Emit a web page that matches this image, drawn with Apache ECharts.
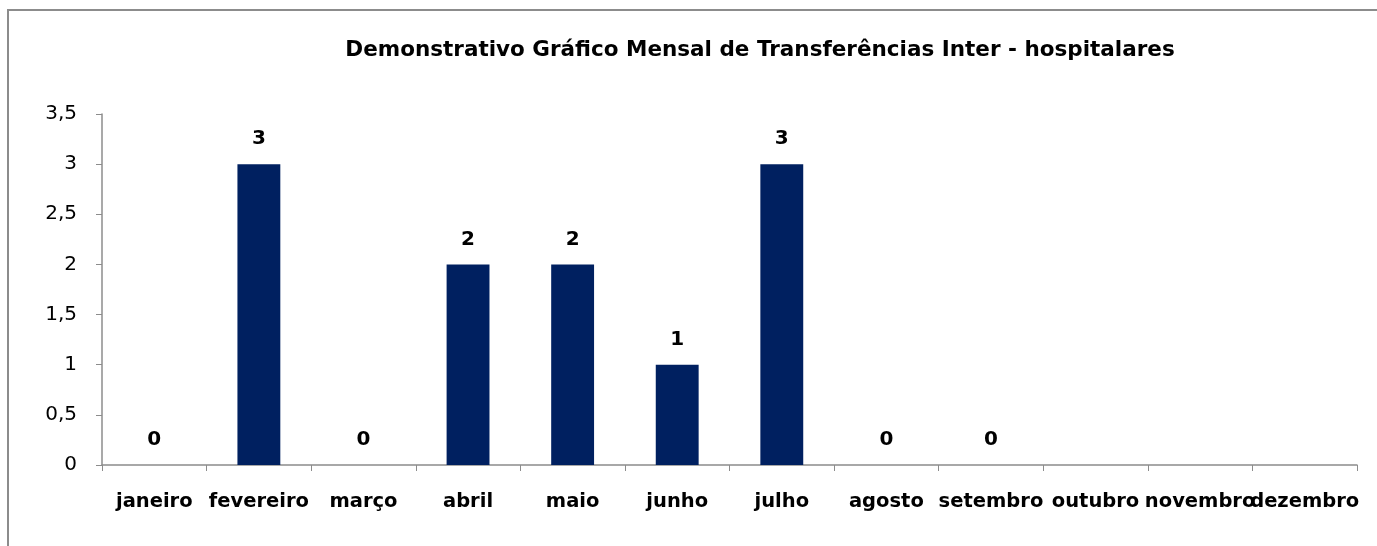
<!DOCTYPE html>
<html>
<head>
<meta charset="utf-8">
<script src="https://cdn.jsdelivr.net/npm/echarts@6/dist/echarts.min.js"></script>
<style>
html, body { margin: 0; padding: 0; background: #fff; }
#frame {
    position: absolute;
    left: 7px;
    top: 9px;
    width: 1400px;
    height: 600px;
    border-left: 2px solid #8c8c8c;
    border-top: 2px solid #8c8c8c;
}
#tu1 { position: absolute; left: 0; top: 0; width: 1377px; height: 546px; }
</style>
</head>
<body>
<div id="frame"></div>
<div id="tu1"></div>
<script>
// meses
var meses = ['janeiro', 'fevereiro', 'março', 'abril', 'maio', 'junho', 'julho',
    'agosto', 'setembro', 'outubro', 'novembro', 'dezembro'];
// transferencias por mes (outubro a dezembro sem valor)
var valores = [0, 3, 0, 2, 2, 1, 3, 0, 0, null, null, null];
var titulo = 'Demonstrativo Gráfico Mensal de Transferências Inter - hospitalares';

var fonte = '"DejaVu Sans", sans-serif';
var myChart = echarts.init(document.getElementById('tu1'));
var option = {
    animation: false,
    title: {
        text: titulo,
        left: 755,
        textAlign: 'center',
        top: 34,
        textStyle: { fontFamily: fonte, fontSize: 21.5, fontWeight: 'bold', color: '#000' }
    },
    grid: { left: 102, right: 20, top: 114, bottom: 81 },
    xAxis: {
        type: 'category',
        data: meses,
        axisLine: { lineStyle: { color: '#8c8c8c', width: 1.5 } },
        axisTick: { show: true, length: 6, lineStyle: { color: '#8c8c8c' } },
        axisLabel: {
            interval: 0,
            margin: 27,
            fontFamily: fonte,
            fontSize: 19.5,
            fontWeight: 'bold',
            color: '#000'
        }
    },
    yAxis: {
        type: 'value',
        min: 0,
        max: 3.5,
        interval: 0.5,
        splitLine: { show: false },
        axisLine: { show: true, lineStyle: { color: '#8c8c8c', width: 1.5 } },
        axisTick: { show: true, length: 6, lineStyle: { color: '#8c8c8c' } },
        axisLabel: {
            margin: 25,
            fontFamily: fonte,
            fontSize: 20,
            color: '#000',
            formatter: function (v) { return String(v).replace('.', ','); }
        }
    },
    series: [{
        type: 'bar',
        data: valores,
        barWidth: '41%',
        itemStyle: { color: '#002060' },
        label: {
            show: true,
            position: 'top',
            distance: 15,
            fontFamily: fonte,
            fontSize: 20,
            fontWeight: 'bold',
            color: '#000'
        }
    }]
};
myChart.setOption(option);
</script>
</body>
</html>
